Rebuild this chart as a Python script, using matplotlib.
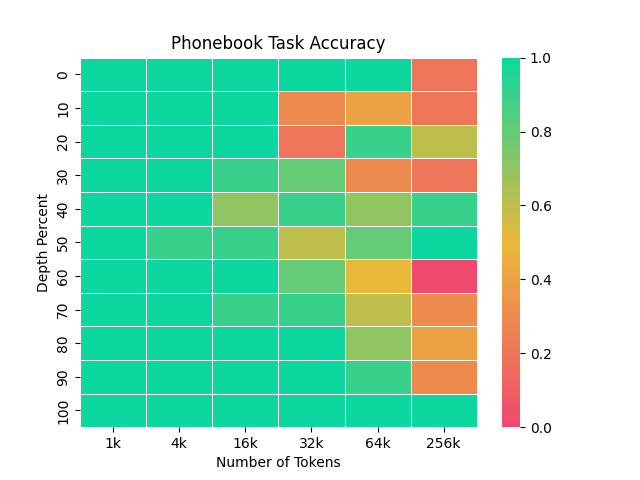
import pandas as pd
import matplotlib
matplotlib.use("Agg")
import matplotlib.pyplot as plt
import seaborn as sns
from matplotlib.colors import LinearSegmentedColormap

tokens = ["1k", "4k", "16k", "32k", "64k", "256k"]
depths = [0, 10, 20, 30, 40, 50, 60, 70, 80, 90, 100]

acc_1k = [1.0, 1.0, 1.0, 1.0, 1.0, 1.0, 1.0, 1.0, 1.0, 1.0, 1.0]
acc_4k = [1.0, 1.0, 1.0, 1.0, 1.0, 0.9, 1.0, 1.0, 1.0, 1.0, 1.0]
acc_16k = [1.0, 1.0, 1.0, 0.9, 0.7, 0.9, 1.0, 0.9, 1.0, 1.0, 1.0]
acc_32k = [1.0, 0.3, 0.2, 0.8, 0.9, 0.6, 0.8, 0.9, 1.0, 1.0, 1.0]
acc_64k = [1.0, 0.4, 0.9, 0.3, 0.7, 0.8, 0.5, 0.6, 0.7, 0.9, 1.0]
acc_256k = [0.2, 0.2, 0.6, 0.2, 0.9, 1.0, 0.0, 0.3, 0.4, 0.3, 1.0]

df = pd.DataFrame({"1k": acc_1k, "4k": acc_4k, "16k": acc_16k,
                   "32k": acc_32k, "64k": acc_64k, "256k": acc_256k},
                  index=depths)[tokens]

cmap = LinearSegmentedColormap.from_list("custom_cmap", ["#F0496E", "#EBB839", "#0CD79F"])

fig = plt.figure(figsize=(6.4, 4.8), dpi=100)
ax = sns.heatmap(df, cmap=cmap, vmin=0, vmax=1, linewidths=0.5, linecolor="white")
ax.set_title("Phonebook Task Accuracy")
ax.set_xlabel("Number of Tokens")
ax.set_ylabel("Depth Percent")
plt.savefig("out.png")
